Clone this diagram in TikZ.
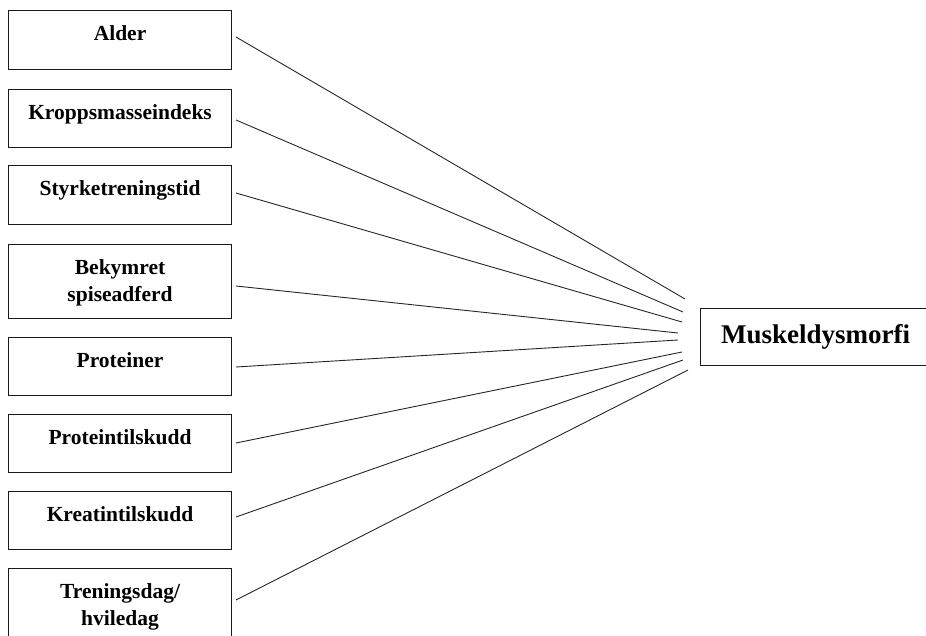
\documentclass[tikz,border=0pt]{standalone}
\usepackage{fontspec}
\setmainfont{Liberation Serif}
\usetikzlibrary{positioning}

\tikzset{
  factor/.style={draw=black!90, line width=1.1pt, minimum width=223pt, anchor=north west, inner sep=0pt},
  factortext/.style={font=\bfseries\fontsize{21.5}{27}\selectfont, align=center, inner sep=0pt},
  outcome/.style={draw=black!90, line width=1.1pt, minimum width=230pt, minimum height=57pt, anchor=north west, inner sep=0pt, font=\bfseries\fontsize{27}{32}\selectfont},
  link/.style={draw=black!85, line width=0.9pt}
}

\begin{document}
\begin{tikzpicture}[x=1pt,y=-1pt]
\useasboundingbox (0,0) rectangle (926,636);

% Outcome box (runs off the right edge)
\node[outcome] (muskel) at (700,308) {Muskeldysmorfi};

% Predictor boxes and their lines
\foreach \n/\top/\h/\txt/\sy/\ex/\ey in {
  1/10/59/Alder/37/685/299,
  2/89/58/Kroppsmasseindeks/120/683/312,
  3/165/59/Styrketreningstid/193/682/322,
  4/244/74/{Bekymret\\spiseadferd}/286/678/333,
  5/337/58/Proteiner/367/678/340,
  6/414/58/Proteintilskudd/443/682/352,
  7/491/58/Kreatintilskudd/517/683/360,
  8/568/74/{Treningsdag/\\hviledag}/600/688/370} {
  \node[factor, minimum height=\h] (box\n) at (8,\top) {};
  \node[factortext, below=15pt of box\n.north] (label\n) {\txt};
  \coordinate (start\n) at (236,\sy);
  \coordinate (end\n) at (\ex,\ey);
  \draw[link] (start\n) -- (end\n);
}
\end{tikzpicture}
\end{document}
